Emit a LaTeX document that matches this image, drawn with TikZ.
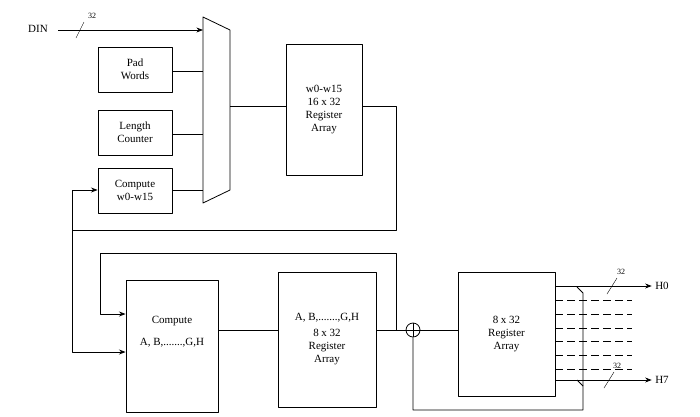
\documentclass[tikz,border=0pt]{standalone}
\usepackage{fontspec}
\setmainfont{Liberation Serif}
\usetikzlibrary{arrows.meta}
\begin{document}
\begin{tikzpicture}[x=1pt,y=-1pt,>=Stealth, line join=round,
  blk/.style={draw, thick, inner sep=0pt, align=center, font=\fontsize{11}{13}\selectfont},
  wire/.style={thick},
  lbl/.style={font=\fontsize{11}{13}\selectfont},
  bus/.style={font=\fontsize{8}{9}\selectfont}]

\useasboundingbox (0,0) rectangle (700,416);

% ----------------------------
% INPUT STAGE
% ----------------------------
\node[lbl] (din) at (38,29) {DIN};
\coordinate (dinE) at (58,30);
\coordinate (muxIn) at (203,30);
\draw[wire,->] (dinE) -- (muxIn);
\draw[thin] (76,38) -- (84,22);
\node[bus] (b32a) at (92,16) {32};

% mux
\draw[thick] (203,17) -- (230,30) -- (230,190) -- (203,203) -- cycle;
\coordinate (muxOut) at (230,106);

\node[blk, minimum width=74, minimum height=45] (pad) at (135,69.5) {Pad\\Words};
\node[blk, minimum width=74, minimum height=45] (len) at (135,132.5) {Length\\Counter};
\node[blk, minimum width=74, minimum height=45] (cw) at (135,190.5) {Compute\\w0-w15};

\draw[wire] (pad.east |- 0,71) -- (203,71);
\draw[wire] (len.east |- 0,134) -- (203,134);
\draw[wire] (cw.east |- 0,190) -- (203,190);

\node[blk, minimum width=76, minimum height=131] (wreg) at (324,109.5)
  {w0-w15\\16 x 32\\Register\\Array};
\draw[wire] (muxOut) -- (wreg.west |- muxOut);

% feedback to compute blocks
\coordinate (fbR) at (396,230);
\coordinate (fbL) at (72,230);
\draw[wire] (wreg.east |- 0,106) -- (396,106) -- (fbR) -- (fbL);
\draw[wire,->] (fbL) -- (72,190) -- (cw.west |- 0,190);

% ----------------------------
% ROUND STAGE
% ----------------------------
\node[blk, minimum width=92, minimum height=132] (cah) at (172,346) {};
\node[lbl] at (172,321) {Compute};
\node[lbl] at (172,343) {A, B,.......,G,H};
\draw[wire,->] (fbL) -- (72,352) -- (cah.west |- 0,352);

\node[blk, minimum width=98, minimum height=135] (ahreg) at (327,339.5) {};
\node[lbl, align=center] at (327,339) {A, B,.......,G,H\\[3pt]8 x 32\\Register\\Array};
\draw[wire] (cah.east |- 0,330) -- (ahreg.west |- 0,330);

\node[draw, thick, circle, minimum size=14, inner sep=0pt] (add) at (413,330) {};
\draw[thin] (add.north) -- (add.south) (add.west) -- (add.east);
\draw[wire] (ahreg.east |- 0,330) -- (add.west);

% loop back to compute A..H
\draw[wire,->] (396,330) -- (396,253) -- (100,253) -- (100,314) -- (cah.west |- 0,314);

\node[blk, minimum width=97, minimum height=124] (hreg) at (506.5,334)
  {8 x 32\\Register\\Array};
\draw[wire] (add.east) -- (hreg.west |- 0,330);

% bottom loop into adder
\draw[wire] (add.south) -- (413,410) -- (583,410) -- (583,293) -- (577,287);
\draw[wire] (583,386) -- (577,380);

% ----------------------------
% OUTPUTS
% ----------------------------
\node[lbl] (h0) at (662,286) {H0};
\node[lbl] (h7) at (662,380) {H7};
\draw[wire,->] (hreg.east |- 0,286) -- (h0.west);
\draw[wire,->] (hreg.east |- 0,380) -- (h7.west);
\draw[thin] (607,294) -- (617,278);
\node[bus] at (621,272) {32};
\draw[thin] (604,388) -- (614,372);
\node[bus] at (617,366) {32};

\foreach \yy in {300,314,328,341,355,369}
  \draw[thick, dash pattern=on 8pt off 4pt] (555,\yy) -- (632,\yy);

\end{tikzpicture}
\end{document}
